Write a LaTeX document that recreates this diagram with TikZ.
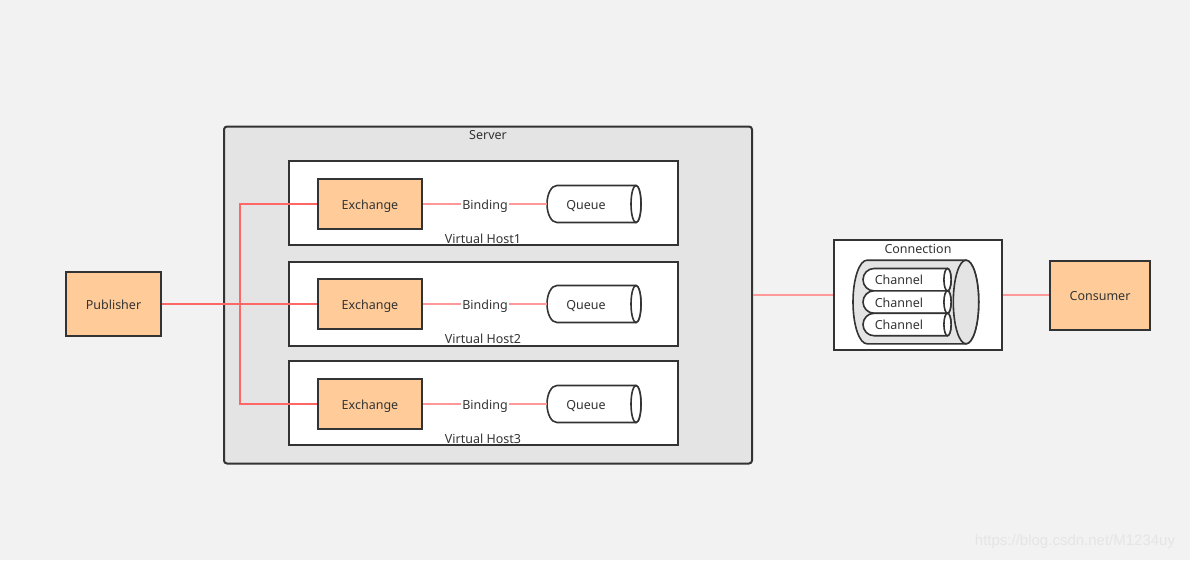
\documentclass[tikz,border=0pt]{standalone}
\usepackage{fontspec}
\setmainfont{Noto Sans}
\newfontfamily\wmfont{Liberation Sans}
\definecolor{bgc}{HTML}{F2F2F2}
\definecolor{srvc}{HTML}{E4E4E4}
\definecolor{edgec}{HTML}{333333}
\definecolor{boxc}{HTML}{FFCC99}
\definecolor{redc}{HTML}{FF6666}
\definecolor{pinkc}{HTML}{FF9999}
\definecolor{txtc}{HTML}{333333}
\begin{document}
\begin{tikzpicture}[x=1pt,y=-1pt,
  font=\fontsize{12.5}{14}\selectfont, text=txtc,
  box/.style={draw=edgec, line width=2pt, fill=boxc, minimum width=#1, inner sep=0pt, text height=1em, text depth=0em},
  host/.style={draw=edgec, line width=2pt, fill=white, minimum width=389, minimum height=84, inner sep=0pt},
  tube/.style={draw=edgec, line width=1.6pt, fill=#1},
  lbl/.style={inner sep=1pt, text height=1em, text depth=0em},
  pub/.style={draw=redc, line width=2pt},
  bind/.style={draw=pinkc, line width=1.5pt}]
\useasboundingbox (0,0) rectangle (1190,560);
\fill[bgc] (0,0) rectangle (1190,560);
% server and virtual hosts
\node[draw=edgec, line width=2pt, fill=srvc, rounded corners=3pt, minimum width=528, minimum height=337] (srv) at (488,295){};
\node[lbl] (srvl) at (488,134){Server};
\node[host] (vh1) at (483.5,203){};
\node[host] (vh2) at (483.5,303.5){};
\node[host] (vh3) at (483.5,403){};
\node[lbl] (vh1l) at (483,238){Virtual Host1};
\node[lbl] (vh2l) at (483,338){Virtual Host2};
\node[lbl] (vh3l) at (483,438){Virtual Host3};
\node[box=104, minimum height=50] (ex1) at (370,204){Exchange};
\node[box=104, minimum height=50] (ex2) at (370,304){Exchange};
\node[box=104, minimum height=50] (ex3) at (370,404){Exchange};
\node[lbl] (b1) at (485,204){Binding};
\node[lbl] (b2) at (485,304){Binding};
\node[lbl] (b3) at (485,404){Binding};
% queues
\foreach \c/\n in {204/1, 304/2, 404/3}{
  \filldraw[tube=white] (636,\c-18.5) -- (557,\c-18.5) arc[start angle=270, end angle=90, x radius=10, y radius=18.5]
    -- (636,\c+18.5) arc[start angle=90, end angle=-90, x radius=5, y radius=18.5] -- cycle;
  \filldraw[tube=white] (636,\c) ellipse[x radius=5, y radius=18.5];
  \node[lbl, minimum width=78, minimum height=37] (q\n) at (586,\c){Queue};
}
% publisher and consumer
\node[box=95, minimum height=64] (pb) at (113.5,304){Publisher};
\node[box=100, minimum height=69] (cs) at (1100,295){Consumer};
% connection
\node[draw=edgec, line width=2pt, fill=white, minimum width=168, minimum height=110, inner sep=0pt] (cn) at (918,295){};
\node[lbl] (cnl) at (918,248){Connection};
\filldraw[tube=srvc] (966,260.2) -- (867,260.2) arc[start angle=270, end angle=90, x radius=14, y radius=41.8]
  -- (966,343.8) arc[start angle=90, end angle=-90, x radius=12.7, y radius=41.8] -- cycle;
\filldraw[tube=srvc] (966,302) ellipse[x radius=12.7, y radius=41.8];
\foreach \c/\n in {279.7/1, 302/2, 324.5/3}{
  \filldraw[tube=white] (947.5,\c-11.2) -- (874,\c-11.2) arc[start angle=270, end angle=90, x radius=11, y radius=11.2]
    -- (947.5,\c+11.2) arc[start angle=90, end angle=-90, x radius=3.6, y radius=11.2] -- cycle;
  \filldraw[tube=white] (947.5,\c) ellipse[x radius=3.6, y radius=11.2];
  \node[lbl] (ch\n) at (899,\c){Channel};
}
% links
\coordinate (jn) at (240,304);
\draw[pub] (pb.east) -- (ex2.west);
\draw[pub] (jn) |- (ex1.west);
\draw[pub] (jn) |- (ex3.west);
\draw[bind] (ex1.east) -- (b1.west);
\draw[bind] (b1.east) -- (q1.west);
\draw[bind] (ex2.east) -- (b2.west);
\draw[bind] (b2.east) -- (q2.west);
\draw[bind] (ex3.east) -- (b3.west);
\draw[bind] (b3.east) -- (q3.west);
\draw[bind] (srv.east) -- (cn.west);
\draw[bind] (cn.east) -- (cs.west);
\node[text=white!80!gray, font=\wmfont\fontsize{15}{17}\selectfont] (wm) at (1075,542){https://blog.csdn.net/M1234uy};
\end{tikzpicture}
\end{document}
